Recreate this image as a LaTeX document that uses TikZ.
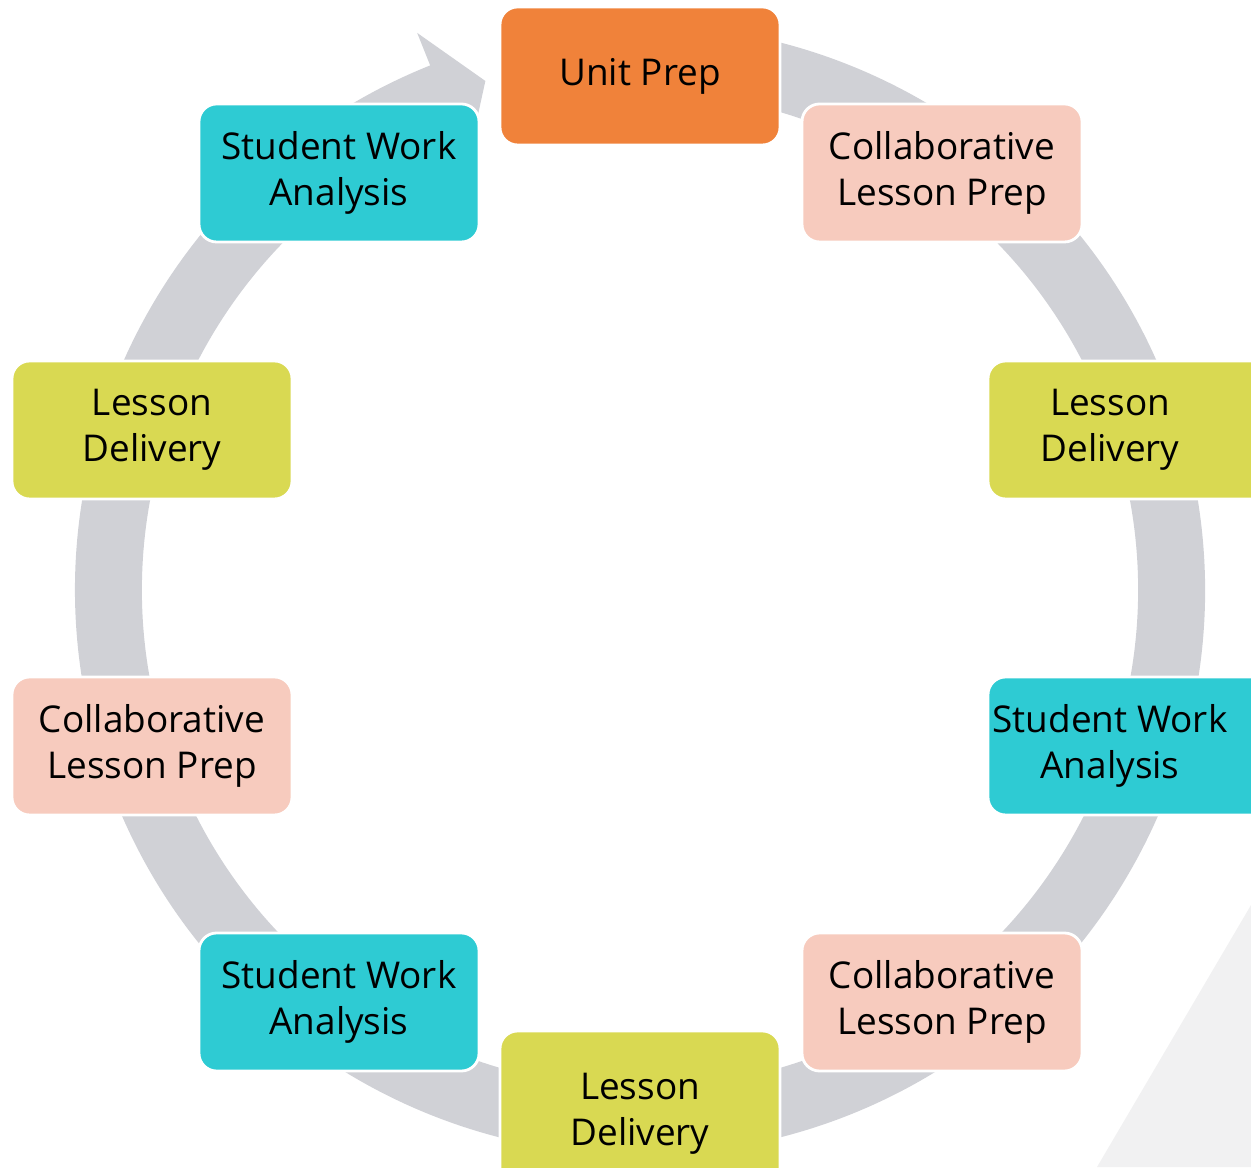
\documentclass[tikz,border=0pt]{standalone}
\usepackage{fontspec}
\setmainfont{Open Sans}
\definecolor{ringgrey}{RGB}{208,209,214}
\definecolor{cornergrey}{RGB}{241,241,242}
\definecolor{unitorange}{RGB}{240,130,58}
\definecolor{preppink}{RGB}{247,203,190}
\definecolor{delivyellow}{RGB}{217,217,82}
\definecolor{swacyan}{RGB}{46,203,211}
\newcommand{\textleft}{\hspace*{-0.36cm}}

\begin{document}
\begin{tikzpicture}[
	box/.style={rounded corners=5pt,draw=white,line width=0.8pt,minimum width=2.8cm,minimum height=1.38cm,inner sep=0pt,align=center,font=\fontsize{10.5}{13}\selectfont},
	unitbox/.style={box,fill=unitorange},
	prepbox/.style={box,fill=preppink},
	delivbox/.style={box,fill=delivyellow},
	swabox/.style={box,fill=swacyan}]
				\clip (0,0) rectangle (12.51,11.67);
				\fill[cornergrey] (12.51,2.62) -- (10.97,0) -- (12.51,0) -- cycle;
				
				% the grey cycle arrow
				\begin{scope}[shift={(6.40,5.77)}]
					\fill[ringgrey] (100:5.65) arc[start angle=100,end angle=-248.2,radius=5.65] -- (111.8:6.00) -- (106.9:5.32) -- (111.8:4.63) -- (-248.2:4.98) arc[start angle=-248.2,end angle=100,radius=4.98] -- cycle;
				\end{scope}
				
				\node (unit) at (6.40,10.91) [unitbox] {Unit Prep};
				\node (clp1) at (9.42,9.94) [prepbox] {Collaborative\\Lesson Prep};
				\node (ld1) at (11.28,7.37) [delivbox] {\textleft Lesson\\\textleft Delivery};
				\node (swa1) at (11.28,4.21) [swabox] {\textleft Student Work\\\textleft Analysis};
				\node (clp2) at (9.42,1.65) [prepbox] {Collaborative\\Lesson Prep};
				\node (ld2) at (6.40,0.53) [delivbox,minimum height=1.66cm] {Lesson\\Delivery};
				\node (swa2) at (3.39,1.65) [swabox] {Student Work\\Analysis};
				\node (clp3) at (1.52,4.21) [prepbox] {Collaborative\\Lesson Prep};
				\node (ld3) at (1.52,7.37) [delivbox] {Lesson\\Delivery};
				\node (swa3) at (3.39,9.94) [swabox] {Student Work\\Analysis};
\end{tikzpicture}
\end{document}
